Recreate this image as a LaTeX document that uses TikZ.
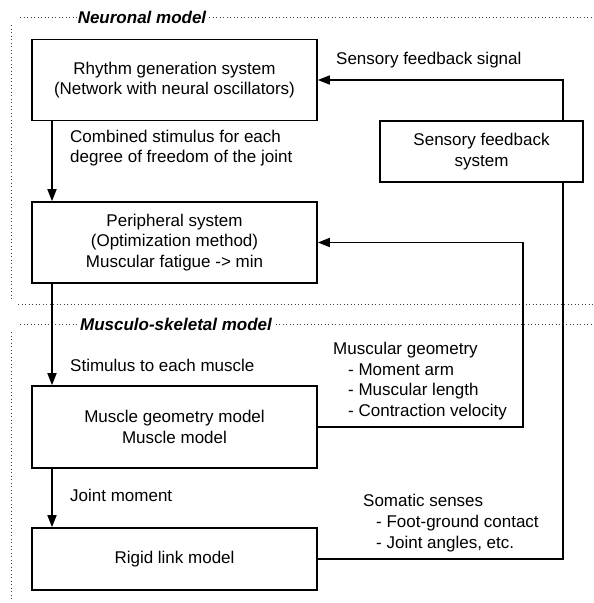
\documentclass[tikz,border=0pt]{standalone}
\usepackage{fontspec}
\setmainfont{Liberation Sans}
\usetikzlibrary{arrows.meta}
\begin{document}
\begin{tikzpicture}[x=1pt,y=-1pt,
  box/.style={draw,line width=1.6pt,minimum width=285pt,inner sep=0pt,align=center,font=\fontsize{17}{20.7}\selectfont},
  lbl/.style={anchor=west,align=left,inner sep=0pt,font=\fontsize{17}{20.7}\selectfont},
  conn/.style={line width=1.6pt},
  arr/.style={line width=1.6pt,-{Triangle[length=12pt,width=9pt]}},
  frame/.style={line width=0.9pt,black!75,dash pattern=on 0.9pt off 2.6pt},
  sect/.style={font=\fontsize{17}{20}\selectfont\bfseries\itshape,fill=white,inner sep=1pt}]
\useasboundingbox (0,0) rectangle (594,603);
% frames
\draw[frame] (20,17) -- (594,17);
\draw[frame] (11,25) -- (11,300);
\draw[frame] (18,304) -- (594,304);
\draw[frame] (20,324) -- (594,324);
\draw[frame] (11,332) -- (11,600);
\node[sect] (nm) at (142,17) {Neuronal model};
\node[sect] (ms) at (176,324) {Musculo-skeletal model};
% boxes
\node[box,minimum height=81pt] (rhy) at (174.5,80) {Rhythm generation system\\(Network with neural oscillators)};
\node[box,minimum width=203pt,minimum height=61pt] (sens) at (481.5,151.5) {Sensory feedback\\system};
\node[box,minimum height=81pt] (per) at (174.5,242.5) {Peripheral system\\(Optimization method)\\Muscular fatigue -> min};
\node[box,minimum height=82pt] (mus) at (174.5,427) {Muscle geometry model\\Muscle model};
\node[box,minimum height=62pt] (rig) at (174.5,559) {Rigid link model};
% coordinates for connector columns
\coordinate (ax) at (52,0);
\coordinate (mx) at (523,0);
\coordinate (sx) at (563,0);
% connectors
\draw[arr] (sens.north -| sx) |- (rhy.east);
\draw[arr] (rhy.south -| ax) -- (per.north -| ax);
\draw[arr] (per.south -| ax) -- (mus.north -| ax);
\draw[arr] (mus.south -| ax) -- (rig.north -| ax);
\draw[arr] (mus.east) -| (mx |- per.east) -- (per.east);
\draw[conn] (rig.east) -| (sens.south -| sx);
% labels
\node[lbl] (l1) at (336,60) {Sensory feedback signal};
\node[lbl] (l2) at (70,148) {Combined stimulus for each\\degree of freedom of the joint};
\node[lbl] (l3) at (70,365) {Stimulus to each muscle};
\node[lbl] (l4) at (333,381) {Muscular geometry\\\hspace*{15pt}- Moment arm\\\hspace*{15pt}- Muscular length\\\hspace*{15pt}- Contraction velocity};
\node[lbl] (l5) at (70,495) {Joint moment};
\node[lbl] (l6) at (363,523) {Somatic senses\\\hspace*{13pt}- Foot-ground contact\\\hspace*{13pt}- Joint angles, etc.};
\end{tikzpicture}
\end{document}
